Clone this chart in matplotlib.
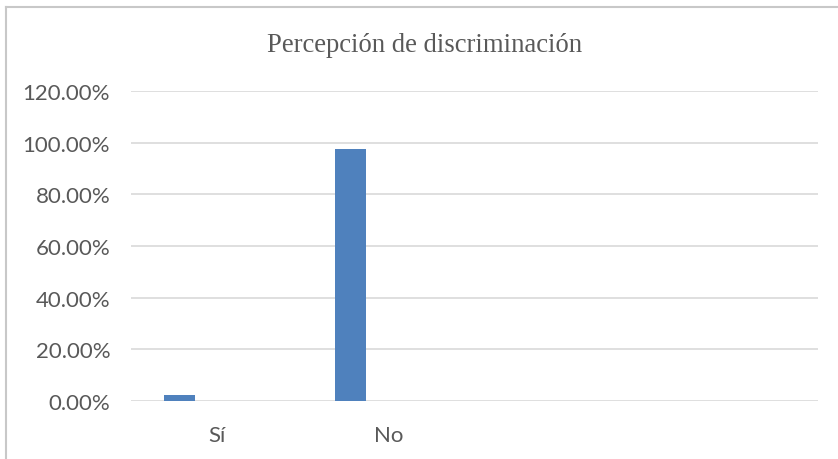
import numpy as np
import matplotlib.pyplot as plt
from matplotlib.lines import Line2D
from matplotlib.ticker import FuncFormatter

categorias = ["Sí", "No", "", ""]
porcentajes = [0.023, 0.977, np.nan, np.nan]
yticks = [0.0, 0.2, 0.4, 0.6, 0.8, 1.0, 1.2]

gris = "#595959"

fig = plt.figure(figsize=(8.38, 4.60), dpi=100)
ax = fig.add_axes([131 / 838, 1 - 402 / 460, 687 / 838, 310 / 460])

x = np.arange(len(categorias))
ax.bar(x - 0.22, porcentajes, width=0.18, color="#4f81bd", zorder=3)

ax.set_xlim(-0.5, len(categorias) - 0.5)
ax.set_ylim(0, 1.2)
ax.set_yticks(yticks)
ax.yaxis.set_major_formatter(FuncFormatter(lambda v, p: f"{v * 100:.2f}%"))
ax.set_xticks(x)
ax.set_xticklabels(categorias)

ax.grid(axis="y", color="#d9d9d9", linewidth=1.2, zorder=0)
for s in ax.spines.values():
    s.set_visible(False)
ax.tick_params(axis="both", length=0, colors=gris, labelsize=16)
ax.tick_params(axis="y", pad=15)
ax.tick_params(axis="x", pad=17)
for lbl in ax.get_xticklabels() + ax.get_yticklabels():
    lbl.set_family("Lato")

fig.text(425 / 838, 1 - 45 / 460, "Percepción de discriminación",
         ha="center", va="center", fontsize=19.2, color=gris,
         family="Liberation Serif")

# marco del gráfico
fig.add_artist(Line2D([6 / 838, 6 / 838], [0, 1 - 8 / 460],
                      transform=fig.transFigure, color="#c8c8c8", lw=1.5))
fig.add_artist(Line2D([6 / 838, 1], [1 - 8 / 460, 1 - 8 / 460],
                      transform=fig.transFigure, color="#c8c8c8", lw=1.5))

fig.savefig("out.png", dpi=100)
